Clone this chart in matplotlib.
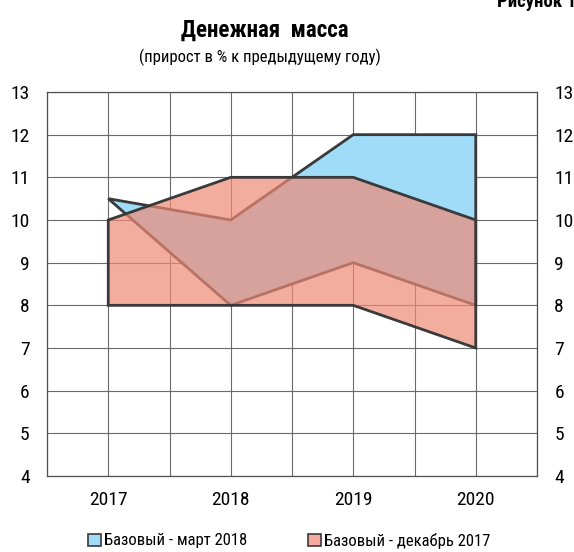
import matplotlib.pyplot as plt
from matplotlib.patches import Patch

plt.rcParams['font.family'] = ['Liberation Sans Narrow', 'Roboto Condensed',
                               'Open Sans Condensed', 'DejaVu Sans']
plt.rcParams['font.stretch'] = 'condensed'

# Years and forecast ranges (money supply growth, %)
years = [2017, 2018, 2019, 2020]

# Base scenario, March 2018
mar18_upper = [10.5, 10, 12, 12]
mar18_lower = [10.5, 8, 9, 8]

# Base scenario, December 2017
dec17_upper = [10, 11, 11, 10]
dec17_lower = [8, 8, 8, 7]

y_ticks = [4, 5, 6, 7, 8, 9, 10, 11, 12, 13]

blue = '#a0dcf8'
red = '#ef8a76'
edge = '#3a3a3a'

fig = plt.figure(figsize=(5.74, 5.52), dpi=100)
ax = fig.add_axes([47 / 574, 1 - 476 / 552, 490 / 574, 384 / 552])

# Each band is drawn as a closed polygon: upper edge forward, lower edge back
ax.fill(years + years[::-1], mar18_upper + mar18_lower[::-1],
        facecolor=blue, edgecolor=edge, linewidth=2, zorder=2)
ax.fill(years + years[::-1], dec17_upper + dec17_lower[::-1],
        facecolor=red, alpha=0.7, edgecolor='none', zorder=3)
ax.fill(years + years[::-1], dec17_upper + dec17_lower[::-1],
        facecolor='none', edgecolor=edge, linewidth=2, zorder=4)

ax.set_xlim(2016.5, 2020.5)
ax.set_ylim(4, 13)
ax.set_xticks(years)
ax.set_xticks([2016.5 + 0.5 * i for i in range(9)], minor=True)
ax.set_yticks(y_ticks)
ax.grid(True, which='both', color='#6a6a6a', linewidth=0.8, zorder=0)
ax.set_axisbelow(True)
ax.tick_params(which='both', length=0)
ax.tick_params(axis='x', labelsize=14, pad=11)
ax.tick_params(axis='y', labelsize=14, pad=12.5, labelright=True)
for spine in ax.spines.values():
    spine.set_color('#505050')
    spine.set_linewidth(0.9)

fig.text(497 / 574, 1 - 7 / 552, 'Рисунок 1', fontsize=13.5, fontweight='bold',
         ha='left', va='baseline')
fig.text(265 / 574, 1 - 37 / 552, 'Денежная  масса', fontsize=16.5,
         fontweight='bold', ha='center', va='baseline')
fig.text(260 / 574, 1 - 62 / 552, '(прирост в % к предыдущему году)',
         fontsize=12, ha='center', va='baseline')

# Legend entries placed one by one under the plot
legend_items = [
    (Patch(facecolor=blue, edgecolor=edge, linewidth=1.2), 'Базовый - март 2018', 88),
    (Patch(facecolor='#f4aa9e', edgecolor=edge, linewidth=1.2), 'Базовый - декабрь 2017', 308),
]
for handle, label, x_px in legend_items:
    fig.legend([handle], [label], loc='center left',
               bbox_to_anchor=(x_px / 574, 1 - 541 / 552), frameon=False,
               fontsize=12, handlelength=0.75, handleheight=0.75,
               handletextpad=0.2, borderpad=0, borderaxespad=0)

fig.savefig('out.png', dpi=100)
